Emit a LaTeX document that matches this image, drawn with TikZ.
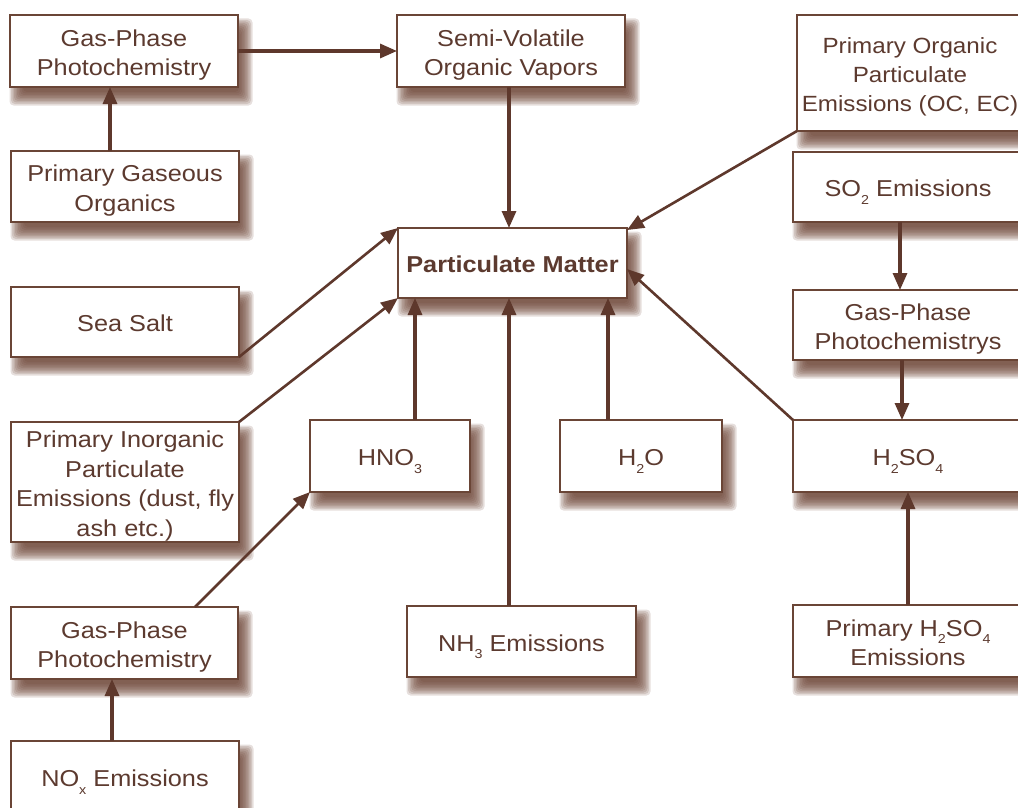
\documentclass[tikz,border=0pt]{standalone}
\usepackage{fontspec}
\setmainfont{Liberation Sans}[FakeStretch=1.1]
\usetikzlibrary{arrows.meta,backgrounds}
\definecolor{textc}{HTML}{5C3A2F}
\definecolor{linec}{HTML}{6A4536}
\definecolor{arrc}{HTML}{5E382C}
\definecolor{shadc}{HTML}{6E4536}
\newcommand\chs[1]{\raisebox{-0.32em}{\fontsize{13}{13}\selectfont #1}}
\newcommand\tx[1]{\raisebox{-4pt}[\height][\depth]{\begin{tabular}{@{}c@{}}#1\end{tabular}}}
\newcommand\boxshadow[1]{%
  \foreach \e in {-6,-4.5,...,8}{%
    \fill[shadc,opacity=0.17,rounded corners=4pt]
      ([shift={(7-\e,11-\e)}]#1.north west) rectangle ([shift={(7+\e,11+\e)}]#1.south east);
  }}
\tikzset{
  bx/.style={draw=linec, line width=1.4pt, fill=white, text=textc,
    inner sep=0pt, outer sep=0pt, font=\fontsize{23}{29.5}\selectfont},
  arr/.style={draw=arrc, line width=3.2pt, -{Triangle[length=17pt,width=14pt]}},
  darr/.style={draw=arrc, line width=2.6pt, -{Triangle[length=17pt,width=14pt]}}
}
\begin{document}
\begin{tikzpicture}[x=1pt,y=-1pt]
\clip (0,0) rectangle (1018,808);
\useasboundingbox (0,0) rectangle (1018,808);
% nodes
\node[bx, minimum width=228pt, minimum height=72pt] (gp1) at (124,51) {\tx{Gas-Phase\\Photochemistry}};
\node[bx, minimum width=228pt, minimum height=72pt] (svov) at (511,51) {\tx{Semi-Volatile\\Organic Vapors}};
\node[bx, minimum width=226pt, minimum height=116pt, font=\fontsize{22}{29}\selectfont] (pope) at (910,73) {\tx{Primary Organic\\Particulate\\Emissions (OC, EC)}};
\node[bx, minimum width=228pt, minimum height=71pt] (pgo) at (125,186.5) {\tx{Primary Gaseous\\Organics}};
\node[bx, minimum width=230pt, minimum height=70pt] (so2) at (908,187) {\tx{SO\chs{2} Emissions}};
\node[bx, minimum width=229pt, minimum height=70pt, font=\fontsize{23}{29}\selectfont\bfseries] (pm) at (512.5,263) {\tx{Particulate Matter}};
\node[bx, minimum width=228pt, minimum height=70pt] (sea) at (125,322) {\tx{Sea Salt}};
\node[bx, minimum width=230pt, minimum height=70pt] (gpps) at (908,325) {\tx{Gas-Phase\\Photochemistrys}};
\node[bx, minimum width=228pt, minimum height=120pt] (pipe) at (125,482) {\tx{Primary Inorganic\\Particulate\\Emissions (dust, fly\\ash etc.)}};
\node[bx, minimum width=160pt, minimum height=72pt] (hno3) at (390,456) {\tx{HNO\chs{3}}};
\node[bx, minimum width=162pt, minimum height=72pt] (h2o) at (641,456) {\tx{H\chs{2}O}};
\node[bx, minimum width=230pt, minimum height=72pt] (h2so4) at (908,456) {\tx{H\chs{2}SO\chs{4}}};
\node[bx, minimum width=227pt, minimum height=72pt] (gp2) at (124.5,643) {\tx{Gas-Phase\\Photochemistry}};
\node[bx, minimum width=229pt, minimum height=71pt] (nh3) at (521.5,641.5) {\tx{NH\chs{3} Emissions}};
\node[bx, minimum width=230pt, minimum height=72pt] (ph2so4) at (908,641) {\tx{Primary H\chs{2}SO\chs{4}\\Emissions}};
\node[bx, minimum width=228pt, minimum height=72pt] (nox) at (125,777) {\tx{NO\chs{x} Emissions}};
% shadows
\begin{scope}[on background layer]
\fill[white] (0,0) rectangle (1018,808);
\foreach \n in {gp1,svov,pope,pgo,so2,pm,sea,gpps,pipe,hno3,h2o,h2so4,gp2,nh3,ph2so4,nox}{\boxshadow{\n}}
\end{scope}
% connectors
\draw[arr] (gp1.east) -- (svov.west);
\draw[arr] ([xshift=-15pt]pgo.north) -- ([xshift=-14pt]gp1.south);
\draw[arr] ([xshift=-2pt]svov.south) -- ([xshift=-3.5pt]pm.north);
\draw[darr] (pope.south west) -- ([yshift=-2pt]pm.north east);
\draw[darr] (sea.south east) -- (pm.north west);
\draw[darr] (pipe.north east) -- (pm.south west);
\draw[arr] ([xshift=25pt]hno3.north) -- ([xshift=-97.5pt]pm.south);
\draw[arr] ([xshift=-12.5pt]nh3.north) -- ([xshift=-3.5pt]pm.south);
\draw[arr] ([xshift=-33pt]h2o.north) -- ([xshift=95.5pt]pm.south);
\draw[darr] (h2so4.north west) -- ([yshift=-6pt]pm.east);
\draw[arr] ([xshift=-8pt]so2.south) -- ([xshift=-8pt]gpps.north);
\draw[arr] ([xshift=-6pt]gpps.south) -- ([xshift=-6pt]h2so4.north);
\draw[arr] ([xshift=0pt]ph2so4.north) -- ([xshift=0pt]h2so4.south);
\draw[darr] ([xshift=70.5pt]gp2.north) -- (hno3.south west);
\draw[arr] ([xshift=-13pt]nox.north) -- ([xshift=-12.5pt]gp2.south);
\end{tikzpicture}
\end{document}
